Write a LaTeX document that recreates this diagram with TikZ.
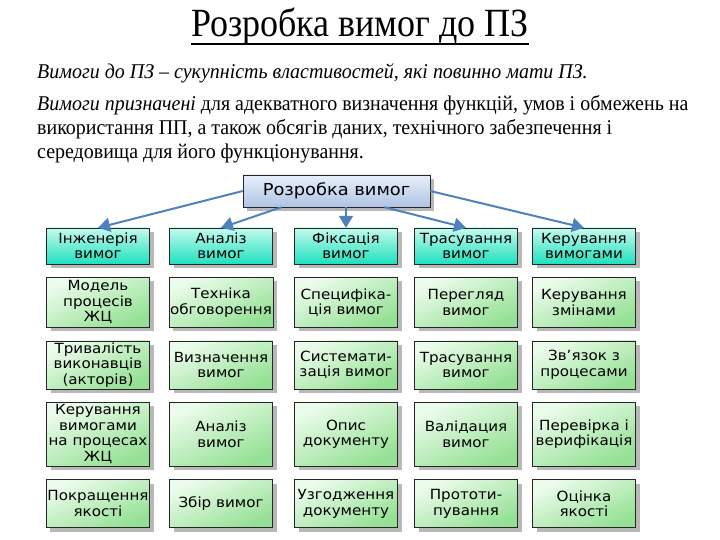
\documentclass[tikz,border=0pt]{standalone}
\usepackage{fontspec}
\setmainfont{Liberation Serif}
\newfontfamily\titlefont[FakeStretch=0.9]{Liberation Serif}
\newfontfamily\bodyfont[FakeStretch=0.95]{Liberation Serif}
\newfontfamily\boxfont[FakeStretch=1.08]{DejaVu Sans}
\usetikzlibrary{arrows.meta, positioning, shadows}
\definecolor{arrowblue}{HTML}{4F81BD}
\definecolor{topblueA}{HTML}{E8EFFA}
\definecolor{topblueB}{HTML}{AFC3E4}
\definecolor{tealA}{HTML}{C4FAEE}
\definecolor{tealB}{HTML}{1EE0BE}
\definecolor{greenA}{HTML}{ECFCEC}
\definecolor{greenB}{HTML}{94E094}

\begin{document}
\begin{tikzpicture}[
    x=1pt, y=-1pt,
    node distance=13pt and 18pt,
    dotshadow/.style={drop shadow={shadow xshift=4pt, shadow yshift=-4pt, opacity=1, fill=black!28}},
    topbox/.style={rectangle, draw=black!85, top color=topblueA, bottom color=topblueB, minimum width=187pt, minimum height=32pt, font=\boxfont\fontsize{16.5}{19}\selectfont, dotshadow},
    kind/.style={rectangle, draw=black!85, top color=tealA, bottom color=tealB, minimum width=103pt, minimum height=36pt, inner sep=1pt, align=center, font=\boxfont\fontsize{14}{15.5}\selectfont, dotshadow},
    task/.style={rectangle, draw=black!85, top color=greenA, bottom color=greenB, shading angle=25, minimum width=103pt, minimum height=48pt, inner sep=1pt, align=center, font=\boxfont\fontsize{14}{15.5}\selectfont, dotshadow},
    arrow/.style={-{Triangle[length=12pt, width=14pt]}, line width=2pt, draw=arrowblue}
]
\useasboundingbox (0,0) rectangle (720,540);

% heading and text
\node[anchor=base, inner sep=0pt, font=\titlefont\fontsize{40}{48}\selectfont] (title) at (360,37) {Розробка вимог до ПЗ};
\draw[line width=1.6pt] ([yshift=-7pt]title.base west) -- ([yshift=-7pt]title.base east);

\node[anchor=base west, inner sep=0pt, font=\bodyfont\fontsize{21}{24}\selectfont\itshape] (definition) at (37,79) {Вимоги до ПЗ – сукупність властивостей, які повинно мати ПЗ.};
\node[anchor=north west, inner sep=0pt, align=left, font=\bodyfont\fontsize{21}{24}\selectfont] (purpose) at (37,95) {\textit{Вимоги призначені} для адекватного визначення функцій, умов і обмежень на\\використання ПП, а також обсягів даних, технічного забезпечення і\\середовища для його функціонування.};

% diagram
\node[topbox] (develop) at (336.5,191) {Розробка вимог};

\node[kind] (engineering) at (98,246) {Інженерія\\вимог};
\node[kind] (analysis) at (221,246) {Аналіз\\вимог};
\node[kind] (fixing) at (346,246) {Фіксація\\вимог};
\node[kind] (tracing) at (466,246) {Трасування\\вимог};
\node[kind] (managing) at (584,246) {Керування\\вимогами};

\node[task, minimum height=50pt, below=of engineering] (model) {Модель\\процесів\\ЖЦ};
\node[task, below=of model] (duration) {Тривалість\\виконавців\\(акторів)};
\node[task, minimum height=64pt, below=of duration] (lifecycle) {Керування\\вимогами\\на процесах\\ЖЦ};
\node[task, below=of lifecycle] (quality) {Покращення\\якості};

\node[task, minimum height=50pt, below=of analysis] (technique) {Техніка\\обговорення};
\node[task, below=of technique] (definereq) {Визначення\\вимог};
\node[task, minimum height=64pt, below=of definereq] (analysereq) {Аналіз\\вимог};
\node[task, below=of analysereq] (collect) {Збір вимог};

\node[task, minimum height=50pt, below=of fixing] (spec) {Специфіка-\\ція вимог};
\node[task, below=of spec] (system) {Системати-\\зація вимог};
\node[task, minimum height=64pt, below=of system] (describe) {Опис\\документу};
\node[task, below=of describe] (agree) {Узгодження\\документу};

\node[task, minimum height=50pt, below=of tracing] (review) {Перегляд\\вимог};
\node[task, below=of review] (tracereq) {Трасування\\вимог};
\node[task, minimum height=64pt, below=of tracereq] (validate) {Валідация\\вимог};
\node[task, below=of validate] (prototype) {Прототи-\\пування};

\node[task, minimum height=50pt, below=of managing] (changes) {Керування\\змінами};
\node[task, below=of changes] (link) {Зв’язок з\\процесами};
\node[task, minimum height=64pt, below=of link] (verify) {Перевірка і\\верифікація};
\node[task, below=of verify] (estimate) {Оцінка\\якості};

\draw[arrow] (develop.west) -- (engineering.north);
\draw[arrow] ([xshift=-55pt]develop.south) -- (analysis.north);
\draw[arrow] (develop.south -| fixing.north) -- (fixing.north);
\draw[arrow] ([xshift=48pt]develop.south) -- (tracing.north);
\draw[arrow] (develop.east) -- (managing.north);

\end{tikzpicture}
\end{document}
